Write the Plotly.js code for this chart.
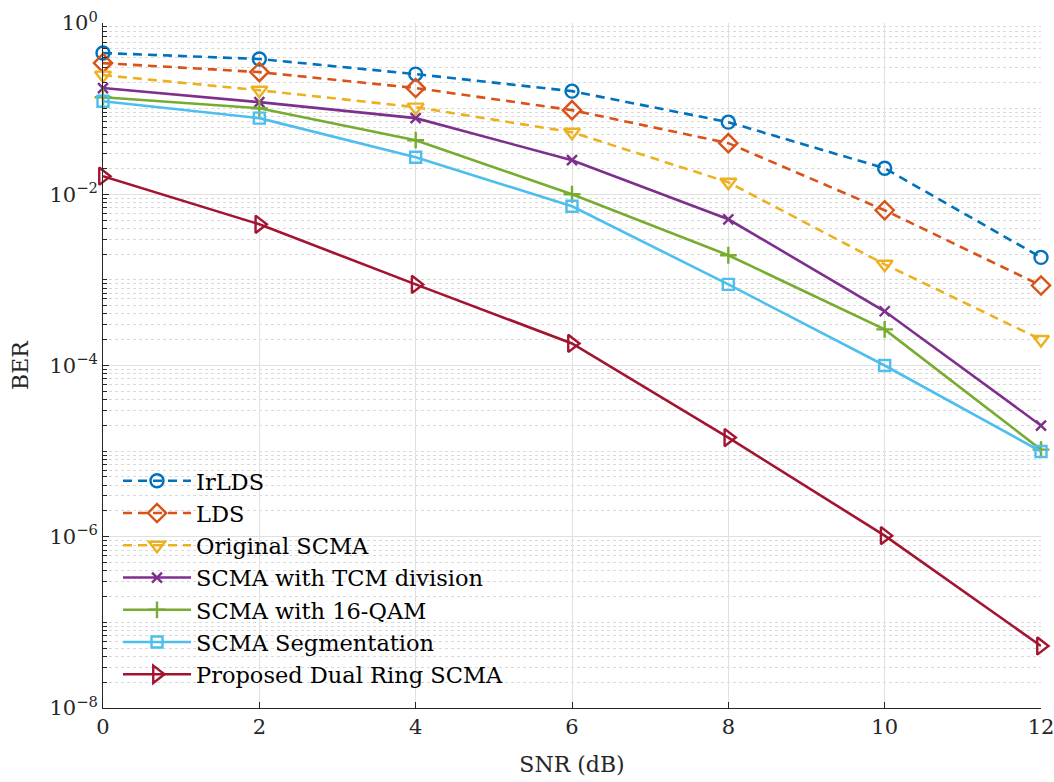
<!DOCTYPE html>
<html>
<head>
<meta charset="utf-8">
<script src="https://cdn.plot.ly/plotly-3.0.1.min.js"></script>
<style>html,body{margin:0;padding:0;background:#fff;}#chart{width:1054px;height:782px;}</style>
</head>
<body>
<div id="chart"></div>
<script>
const snr = [0, 2, 4, 6, 8, 10, 12];
const irlds = [0.446, 0.38, 0.253, 0.160, 0.0695, 0.0201, 0.00183];
const lds = [0.34, 0.267, 0.174, 0.096, 0.0395, 0.0065, 0.00086];
const originalScma = [0.246, 0.164, 0.104, 0.053, 0.0138, 0.00152, 0.000201];
const scmaTcm = [0.174, 0.119, 0.0774, 0.025, 0.0051, 0.00043, 1.99e-5];
const scma16qam = [0.136, 0.101, 0.0428, 0.0100, 0.00194, 0.000264, 1.04e-5];
const scmaSeg = [0.122, 0.0774, 0.0271, 0.00724, 0.000886, 0.0001, 9.9e-6];
const dualRing = [0.01625, 0.00446, 0.000886, 0.000181, 1.44e-5, 1.03e-6, 5.3e-8];
const names = ["IrLDS", "LDS", "Original SCMA", "SCMA with TCM division", "SCMA with 16-QAM", "SCMA Segmentation", "Proposed Dual Ring SCMA"];
const yTickVals = [1, 1e-2, 1e-4, 1e-6, 1e-8];
const yTickText = ["10<sup>0</sup>", "10<sup>−2</sup>", "10<sup>−4</sup>", "10<sup>−6</sup>", "10<sup>−8</sup>"];
const xTickVals = [0, 2, 4, 6, 8, 10, 12];

const series = [irlds, lds, originalScma, scmaTcm, scma16qam, scmaSeg, dualRing];
const colors = ["#0072BD", "#D95319", "#EDB120", "#7E2F8E", "#77AC30", "#4DBEEE", "#A2142F"];
const symbols = ["circle-open", "diamond-open", "triangle-down-open", "x-thin-open", "cross-thin-open", "square-open", "triangle-right-open"];
const dashes = ["9px,6px", "9px,6px", "9px,6px", "solid", "solid", "solid", "solid"];
const sizes = [13, 14, 14, 10, 12, 11, 15];

const traces = series.map((ys, i) => ({
  x: snr, y: ys, name: names[i], type: "scatter", mode: "lines+markers", cliponaxis: false,
  line: {color: colors[i], width: 2.6, dash: dashes[i]},
  marker: {symbol: symbols[i], size: sizes[i], color: colors[i], line: {color: colors[i], width: 2.4}}
}));

// minor grid values
const minorVals = [];
for (let e = -8; e < 0; e++) {
  for (let m = 1; m <= 9; m++) {
    const v = m * Math.pow(10, e);
    if (m === 1 && (e % 2 === 0)) continue;
    minorVals.push(v);
  }
}

const font = {family: "DejaVu Serif, serif", size: 21, color: "#262626"};
const layout = {
  width: 1054, height: 782,
  margin: {l: 103, r: 13, t: 23, b: 74},
  paper_bgcolor: "#fff", plot_bgcolor: "#fff",
  font: font,
  showlegend: true,
  legend: {x: 0.016, y: 0.018, xanchor: "left", yanchor: "bottom", bgcolor: "rgba(0,0,0,0)", borderwidth: 0, itemwidth: 68, font: {family: "DejaVu Serif, serif", size: 22.5, color: "#000"}, tracegroupgap: 0},
  xaxis: {
    range: [0, 12], tickmode: "array", tickvals: xTickVals, ticks: "inside", ticklen: 6, tickcolor: "#262626",
    showline: true, linecolor: "#262626", linewidth: 1, zeroline: false,
    showgrid: true, gridcolor: "#e0e0e0", gridwidth: 1, ticklabeloverflow: "allow",
    title: {text: "SNR (dB)", font: {family: "DejaVu Serif, serif", size: 22, color: "#262626"}, standoff: 18},
    tickfont: font
  },
  yaxis: {
    type: "log", range: [-8, 0], tickmode: "array", tickvals: yTickVals, ticktext: yTickText,
    ticks: "inside", ticklen: 6, tickcolor: "#262626",
    showline: true, linecolor: "#262626", linewidth: 1, zeroline: false,
    showgrid: true, gridcolor: "#e0e0e0", gridwidth: 1, ticklabeloverflow: "allow",
    minor: {tickmode: "array", tickvals: minorVals, ticks: "inside", ticklen: 4, tickcolor: "#262626", showgrid: true, gridcolor: "#d9d9d9", griddash: "dot", gridwidth: 1},
    title: {text: "BER", font: {family: "DejaVu Serif, serif", size: 22, color: "#262626"}, standoff: 14},
    tickfont: font
  }
};

Plotly.newPlot("chart", traces, layout, {displayModeBar: false, staticPlot: true});
</script>
</body>
</html>
